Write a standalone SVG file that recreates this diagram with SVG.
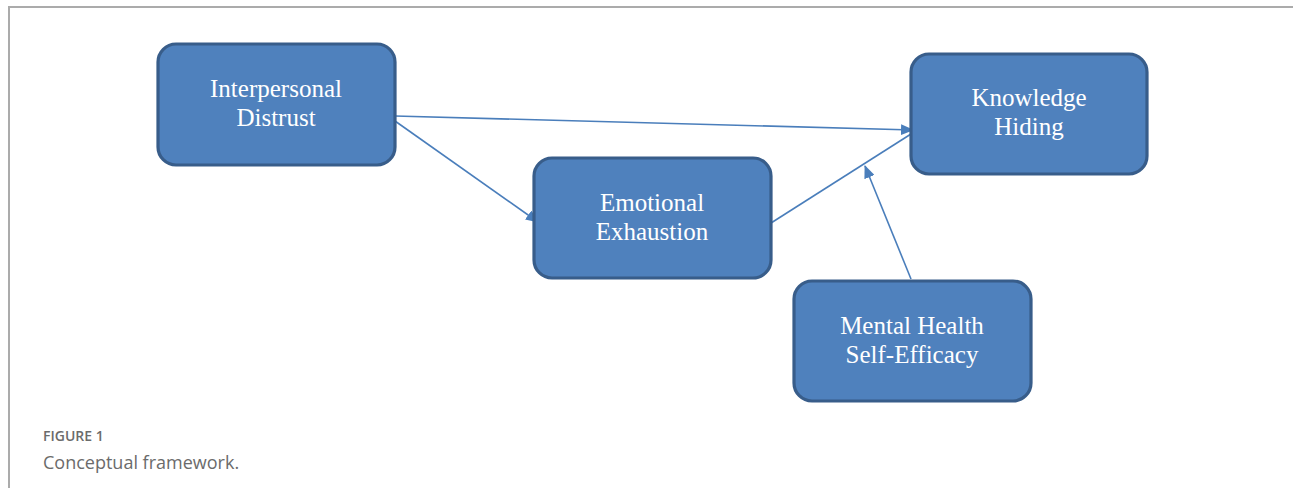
<svg xmlns="http://www.w3.org/2000/svg" width="1293" height="488" viewBox="0 0 1293 488">
<style>
.box{fill:#4f81bd;stroke:#385d8a;stroke-width:3.2}
.lbl{font-family:"Liberation Serif","Times New Roman",serif;font-size:25px;fill:#ffffff;text-anchor:middle}
.conn{stroke:#4a7ebb;stroke-width:1.6;fill:none}
.frame{stroke:#ababab;stroke-width:2;fill:none}
.cap1{font-family:"Open Sans","Liberation Sans",sans-serif;font-size:14px;font-weight:600;fill:#6b6b6b}
.cap2{font-family:"Open Sans","Liberation Sans",sans-serif;font-size:18px;fill:#6b6b6b}
</style>
<defs>
<marker id="arr" markerUnits="userSpaceOnUse" markerWidth="13" markerHeight="11" refX="12" refY="5.5" orient="auto">
<path d="M0,0 L13,5.5 L0,11 Z" fill="#4a7ebb"/>
</marker>
</defs>
<rect width="1293" height="488" fill="#ffffff"/>
<path class="frame" d="M9,488 V7 H1293"/>
<g id="connectors">
<line class="conn" x1="395" y1="116" x2="913" y2="130" marker-end="url(#arr)"/>
<line class="conn" x1="395" y1="121" x2="538" y2="222" marker-end="url(#arr)"/>
<line class="conn" x1="771" y1="223" x2="911" y2="134"/>
<line class="conn" x1="911" y1="279" x2="865" y2="166" marker-end="url(#arr)"/>
</g>
<g id="interpersonal-distrust">
<rect class="box" x="158" y="44" width="237" height="121" rx="18"/>
<text class="lbl" x="276" y="97">Interpersonal</text>
<text class="lbl" x="276" y="126">Distrust</text>
</g>
<g id="emotional-exhaustion">
<rect class="box" x="534" y="158" width="237" height="120" rx="18"/>
<text class="lbl" x="652" y="211">Emotional</text>
<text class="lbl" x="652" y="240">Exhaustion</text>
</g>
<g id="knowledge-hiding">
<rect class="box" x="911" y="54" width="236" height="120" rx="18"/>
<text class="lbl" x="1029" y="106">Knowledge</text>
<text class="lbl" x="1029" y="135">Hiding</text>
</g>
<g id="mental-health-self-efficacy">
<rect class="box" x="794" y="281" width="237" height="120" rx="18"/>
<text class="lbl" x="912" y="334">Mental Health</text>
<text class="lbl" x="912" y="363">Self-Efficacy</text>
</g>
<text class="cap1" x="43" y="441">FIGURE 1</text>
<text class="cap2" x="43" y="469">Conceptual framework.</text>
</svg>
